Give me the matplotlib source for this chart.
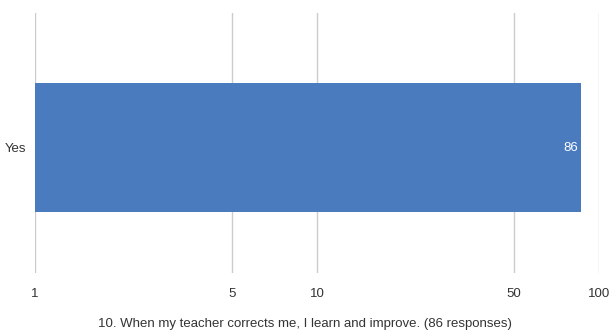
import matplotlib.pyplot as plt

plt.rcParams['font.family'] = ['Liberation Sans', 'DejaVu Sans']

categories = ['Yes']
counts = [86]
xticks = [1, 5, 10, 50, 100]
title = '10. When my teacher corrects me, I learn and improve. (86 responses)'

bar_color = '#4a7bbf'
grid_color = '#cccccc'
text_color = '#333333'

fig = plt.figure(figsize=(6.1, 3.31), dpi=100)
ax = fig.add_axes([35 / 610, 1 - 273 / 331, 564 / 610, 260 / 331])

ax.barh(categories, counts, height=1.0, left=0, color=bar_color, zorder=2)
ax.set_xscale('log')
ax.set_xlim(1, 100)
ax.set_ylim(-0.973, 1.043)

ax.set_xticks(xticks)
ax.set_xticklabels([str(t) for t in xticks])
ax.minorticks_off()
ax.grid(axis='x', color=grid_color, linewidth=1, zorder=0)
ax.tick_params(axis='both', length=0, labelsize=9.5, colors=text_color)
ax.tick_params(axis='x', pad=11)
ax.tick_params(axis='y', pad=6)
for s in ax.spines.values():
    s.set_visible(False)

for i, v in enumerate(counts):
    ax.text(v * 0.98, i, str(v), ha='right', va='center', color='white', fontsize=9.5, zorder=3)

fig.text(0.5, 1 - 324 / 331, title, ha='center', va='center', fontsize=9.5, color=text_color)

fig.savefig('out.png', dpi=100)
